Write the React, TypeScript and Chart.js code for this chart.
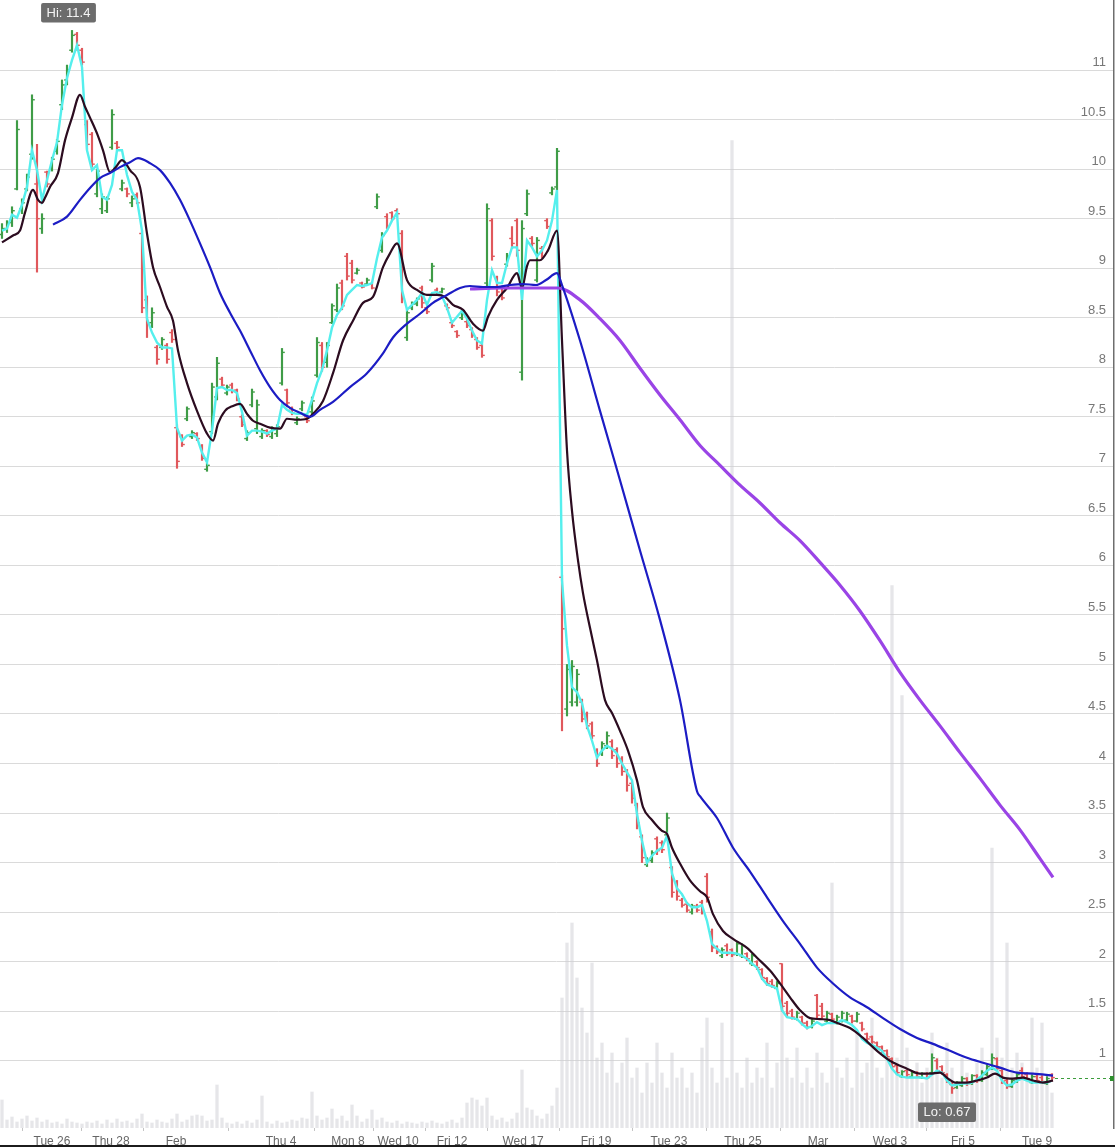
import React, { useEffect, useRef } from "react";
import { Chart, registerables } from "chart.js";

Chart.register(...registerables);

// ---- x axis (bar index units) ----
const xTickPos = [10.0, 21.8, 34.8, 55.8, 69.2, 79.2, 90.0, 104.2, 118.8, 133.4, 148.2, 163.2, 177.6, 192.2, 207.0];
const xTickLabels = ["Tue 26", "Thu 28", "Feb", "Thu 4", "Mon 8", "Wed 10", "Fri 12", "Wed 17", "Fri 19", "Tue 23", "Thu 25", "Mar", "Wed 3", "Fri 5", "Tue 9"];
const yTicks = [1, 1.5, 2, 2.5, 3, 3.5, 4, 4.5, 5, 5.5, 6, 6.5, 7, 7.5, 8, 8.5, 9, 9.5, 10, 10.5, 11];

// ---- OHLC ----
const opens = [
  9.34, 9.40, 9.46, 9.80, 9.60, 9.80, 10.15, 9.85, 9.40, 9.97,
  10.00, 10.18, 10.65, 10.90, 11.20, 11.36, 11.20, 10.45, 10.35, 9.75,
  9.60, 9.58, 10.22, 10.26, 9.80, 9.80, 9.66, 9.74, 9.35, 8.68,
  8.45, 8.20, 8.20, 8.22, 8.35, 7.39, 7.30, 7.48, 7.30, 7.33,
  7.20, 6.97, 7.35, 7.70, 7.88, 7.74, 7.82, 7.77, 7.50, 7.28,
  7.62, 7.38, 7.30, 7.36, 7.30, 7.33, 7.84, 7.77, 7.58, 7.44,
  7.58, 7.50, 7.55, 7.92, 8.22, 8.05, 8.45, 8.58, 8.85, 9.12,
  9.05, 8.95, 8.85, 8.84, 8.84, 9.62, 9.18, 9.52, 9.56, 9.58,
  9.35, 8.30, 8.60, 8.64, 8.80, 8.60, 8.88, 8.78, 8.76, 8.62,
  8.45, 8.36, 8.50, 8.46, 8.38, 8.28, 8.22, 8.85, 9.48, 8.90,
  8.80, 9.04, 9.30, 9.48, 7.95, 9.55, 9.30, 8.88, 9.20, 9.48,
  9.76, 9.82, 5.88, 4.55, 4.62, 4.62, 4.62, 4.50, 4.40, 4.12,
  4.10, 4.18, 4.22, 4.14, 4.05, 3.92, 3.80, 3.58, 3.26, 2.98,
  3.02, 3.24, 3.20, 3.28, 2.95, 2.80, 2.62, 2.58, 2.50, 2.56,
  2.60, 2.86, 2.30, 2.15, 2.06, 2.16, 2.12, 2.08, 2.06, 2.08,
  1.98, 2.00, 1.92, 1.83, 1.80, 1.73, 1.98, 1.58, 1.50, 1.42,
  1.44, 1.38, 1.34, 1.66, 1.55, 1.40, 1.47, 1.38, 1.40, 1.41,
  1.45, 1.40, 1.38, 1.27, 1.24, 1.18, 1.14, 1.10, 1.02, 0.95,
  0.84, 0.90, 0.84, 0.88, 0.83, 0.87, 0.88, 1.00, 0.94, 0.86,
  0.76, 0.73, 0.75, 0.82, 0.77, 0.85, 0.80, 0.86, 0.92, 1.02,
  0.90, 0.80, 0.74, 0.79, 0.90, 0.86, 0.78, 0.84, 0.83, 0.77,
  0.86,
];
const highs = [
  9.45, 9.48, 9.62, 10.49, 9.70, 9.95, 10.75, 10.25, 9.55, 9.98,
  10.12, 10.30, 10.90, 11.05, 11.40, 11.38, 11.22, 10.49, 10.37, 10.00,
  9.75, 9.72, 10.60, 10.28, 9.89, 9.81, 9.73, 9.76, 9.38, 8.72,
  8.60, 8.22, 8.30, 8.24, 8.38, 7.42, 7.32, 7.60, 7.36, 7.34,
  7.22, 7.03, 7.84, 8.10, 7.90, 7.82, 7.84, 7.78, 7.52, 7.36,
  7.78, 7.67, 7.38, 7.37, 7.40, 7.42, 8.19, 7.78, 7.60, 7.50,
  7.66, 7.52, 7.70, 8.30, 8.25, 8.25, 8.64, 8.84, 8.88, 9.15,
  9.08, 9.00, 8.86, 8.90, 8.86, 9.75, 9.36, 9.55, 9.57, 9.60,
  9.38, 8.58, 8.66, 8.70, 8.82, 8.61, 9.05, 8.80, 8.80, 8.64,
  8.47, 8.37, 8.58, 8.48, 8.40, 8.30, 8.23, 9.65, 9.50, 8.92,
  8.82, 9.15, 9.42, 9.50, 9.48, 9.79, 9.32, 9.31, 9.22, 9.50,
  9.82, 10.21, 5.90, 5.00, 5.04, 4.95, 4.65, 4.52, 4.42, 4.15,
  4.22, 4.32, 4.24, 4.16, 4.07, 3.94, 3.82, 3.60, 3.28, 3.05,
  3.12, 3.26, 3.22, 3.50, 2.96, 2.82, 2.64, 2.60, 2.58, 2.58,
  2.62, 2.89, 2.33, 2.16, 2.14, 2.18, 2.13, 2.20, 2.18, 2.09,
  2.08, 2.01, 1.93, 1.84, 1.82, 1.80, 1.98, 1.60, 1.52, 1.50,
  1.45, 1.40, 1.42, 1.67, 1.58, 1.50, 1.48, 1.46, 1.50, 1.49,
  1.46, 1.49, 1.39, 1.28, 1.25, 1.19, 1.15, 1.11, 1.03, 0.96,
  0.90, 0.91, 0.89, 0.89, 0.88, 0.88, 1.07, 1.02, 0.95, 0.87,
  0.78, 0.79, 0.84, 0.83, 0.86, 0.86, 0.90, 0.96, 1.07, 1.03,
  0.91, 0.82, 0.82, 0.88, 0.93, 0.88, 0.86, 0.86, 0.85, 0.84,
  0.87,
];
const lows = [
  9.30, 9.36, 9.42, 9.79, 9.55, 9.78, 10.10, 8.96, 9.35, 9.82,
  9.98, 10.15, 10.60, 10.85, 11.18, 11.20, 11.05, 10.20, 10.02, 9.72,
  9.55, 9.56, 10.20, 10.20, 9.78, 9.72, 9.62, 9.65, 8.55, 8.30,
  8.40, 8.03, 8.18, 8.04, 8.25, 6.98, 7.20, 7.46, 7.28, 7.26,
  7.06, 6.95, 7.33, 7.67, 7.80, 7.72, 7.74, 7.66, 7.40, 7.26,
  7.60, 7.33, 7.28, 7.30, 7.28, 7.30, 7.82, 7.60, 7.52, 7.42,
  7.56, 7.44, 7.50, 7.90, 7.96, 8.00, 8.44, 8.56, 8.58, 8.88,
  8.85, 8.94, 8.80, 8.83, 8.79, 9.60, 9.16, 9.40, 9.48, 9.52,
  8.65, 8.27, 8.58, 8.62, 8.60, 8.54, 8.86, 8.74, 8.75, 8.58,
  8.40, 8.30, 8.48, 8.40, 8.30, 8.18, 8.10, 8.81, 9.08, 8.72,
  8.68, 9.02, 9.20, 9.12, 7.87, 9.53, 9.22, 8.86, 9.10, 9.40,
  9.74, 9.79, 4.33, 4.48, 4.58, 4.58, 4.42, 4.35, 4.25, 3.97,
  4.08, 4.15, 4.05, 3.96, 3.88, 3.72, 3.60, 3.34, 3.00, 2.96,
  3.00, 3.08, 3.10, 3.26, 2.65, 2.62, 2.55, 2.50, 2.48, 2.50,
  2.48, 2.60, 2.10, 2.08, 2.04, 2.06, 2.05, 2.06, 2.04, 2.01,
  1.96, 1.92, 1.82, 1.76, 1.74, 1.72, 1.50, 1.45, 1.42, 1.41,
  1.36, 1.32, 1.33, 1.43, 1.42, 1.38, 1.40, 1.37, 1.39, 1.40,
  1.38, 1.39, 1.30, 1.20, 1.17, 1.12, 1.08, 1.02, 0.92, 0.86,
  0.83, 0.84, 0.83, 0.83, 0.82, 0.82, 0.87, 0.88, 0.86, 0.78,
  0.67, 0.72, 0.74, 0.75, 0.76, 0.78, 0.79, 0.85, 0.91, 0.90,
  0.77, 0.72, 0.73, 0.78, 0.82, 0.80, 0.77, 0.78, 0.78, 0.76,
  0.79,
];
const closes = [
  9.40, 9.46, 9.58, 10.40, 9.66, 9.92, 10.70, 9.50, 9.50, 9.85,
  10.10, 10.28, 10.85, 11.00, 11.35, 11.25, 11.08, 10.25, 10.05, 9.98,
  9.72, 9.70, 10.55, 10.22, 9.86, 9.75, 9.70, 9.66, 8.60, 8.45,
  8.55, 8.08, 8.28, 8.08, 8.28, 7.05, 7.22, 7.58, 7.34, 7.28,
  7.08, 7.01, 7.80, 8.04, 7.82, 7.80, 7.76, 7.68, 7.42, 7.34,
  7.75, 7.62, 7.36, 7.32, 7.38, 7.40, 8.15, 7.64, 7.54, 7.48,
  7.64, 7.46, 7.66, 8.25, 8.00, 8.22, 8.62, 8.80, 8.62, 8.92,
  8.88, 8.98, 8.81, 8.88, 8.80, 9.72, 9.33, 9.42, 9.50, 9.55,
  8.70, 8.55, 8.64, 8.69, 8.65, 8.56, 9.02, 8.75, 8.79, 8.60,
  8.42, 8.32, 8.56, 8.42, 8.32, 8.20, 8.12, 9.60, 9.12, 8.76,
  8.70, 9.12, 9.25, 9.18, 9.40, 9.75, 9.25, 9.28, 9.12, 9.42,
  9.80, 10.18, 5.36, 4.95, 4.98, 4.90, 4.45, 4.38, 4.28, 4.00,
  4.20, 4.28, 4.08, 4.00, 3.92, 3.78, 3.65, 3.40, 3.05, 3.03,
  3.10, 3.12, 3.13, 3.45, 2.70, 2.66, 2.57, 2.52, 2.56, 2.52,
  2.50, 2.65, 2.14, 2.10, 2.12, 2.08, 2.07, 2.18, 2.16, 2.03,
  2.06, 1.94, 1.84, 1.78, 1.76, 1.78, 1.55, 1.48, 1.44, 1.48,
  1.38, 1.34, 1.40, 1.46, 1.45, 1.48, 1.42, 1.44, 1.48, 1.47,
  1.40, 1.47, 1.32, 1.22, 1.19, 1.14, 1.10, 1.04, 0.94, 0.88,
  0.89, 0.86, 0.88, 0.84, 0.87, 0.83, 1.03, 0.90, 0.88, 0.80,
  0.72, 0.78, 0.82, 0.77, 0.85, 0.80, 0.88, 0.94, 1.03, 0.92,
  0.79, 0.74, 0.80, 0.86, 0.84, 0.82, 0.84, 0.80, 0.79, 0.82,
  0.83,
];

// ---- volume (millions) ----
const volumes = [
  1.12, 0.32, 0.44, 0.24, 0.36, 0.48, 0.28, 0.4, 0.24, 0.32,
  0.2, 0.24, 0.16, 0.36, 0.24, 0.2, 0.16, 0.24, 0.2, 0.28,
  0.16, 0.32, 0.2, 0.36, 0.24, 0.28, 0.2, 0.36, 0.56, 0.24,
  0.2, 0.32, 0.24, 0.2, 0.36, 0.56, 0.24, 0.32, 0.48, 0.52,
  0.48, 0.28, 0.32, 1.72, 0.4, 0.2, 0.16, 0.24, 0.16, 0.28,
  0.2, 0.32, 1.28, 0.24, 0.16, 0.28, 0.2, 0.24, 0.32, 0.28,
  0.4, 0.36, 1.44, 0.48, 0.32, 0.4, 0.76, 0.36, 0.48, 0.28,
  0.92, 0.48, 0.24, 0.36, 0.72, 0.32, 0.4, 0.24, 0.2, 0.28,
  0.16, 0.24, 0.2, 0.16, 0.24, 0.2, 0.28, 0.2, 0.16, 0.24,
  0.32, 0.2, 0.4, 1.0, 1.2, 1.12, 0.88, 1.2, 0.48, 0.32,
  0.4, 0.24, 0.36, 0.6, 2.32, 0.8, 0.72, 0.48, 0.36, 0.56,
  0.88, 1.6, 5.2, 7.4, 8.2, 6.0, 4.8, 3.8, 6.6, 2.8,
  3.4, 2.2, 3.0, 1.8, 2.6, 3.6, 2.0, 2.4, 1.4, 2.6,
  1.8, 3.4, 2.2, 1.6, 3.0, 2.0, 2.4, 1.6, 2.2, 1.4,
  3.2, 4.4, 2.4, 1.8, 4.2, 2.0, 39.5, 2.2, 1.6, 2.8,
  1.8, 2.4, 2.0, 3.4, 1.6, 2.6, 5.0, 2.8, 2.0, 3.2,
  1.8, 2.4, 1.6, 3.0, 2.2, 1.8, 9.8, 2.4, 2.0, 2.8,
  1.6, 3.8, 2.2, 2.6, 4.4, 2.4, 2.0, 3.0, 21.7, 2.8,
  17.3, 3.2, 2.2, 2.6, 1.8, 2.4, 3.8, 2.8, 2.0, 3.4,
  2.4, 1.6, 2.8, 2.2, 1.8, 2.6, 3.2, 2.4, 11.2, 3.6,
  2.8, 7.4, 2.4, 3.0, 2.6, 2.0, 4.4, 2.4, 4.2, 1.8,
  1.4,
];

// ---- fast line (cyan) ----
const fastLine = [
  9.38, 9.40, 9.54, 9.51, 9.64, 9.82, 10.19, 9.99, 9.69, 9.89,
  10.09, 10.27, 10.65, 10.92, 11.10, 11.25, 11.03, 10.19, 9.99, 10.04,
  9.72, 9.69, 9.84, 10.19, 10.19, 9.94, 9.77, 9.69, 9.38, 8.49,
  8.35, 8.25, 8.20, 8.20, 8.19, 7.39, 7.26, 7.31, 7.32, 7.29,
  7.14, 7.04, 7.36, 7.79, 7.80, 7.77, 7.77, 7.74, 7.55, 7.31,
  7.36, 7.36, 7.35, 7.33, 7.36, 7.38, 7.62, 7.57, 7.54, 7.53,
  7.53, 7.52, 7.67, 7.84, 7.97, 8.17, 8.40, 8.53, 8.60, 8.73,
  8.78, 8.83, 8.82, 8.83, 8.85, 9.10, 9.31, 9.38, 9.48, 9.56,
  8.78, 8.58, 8.63, 8.68, 8.75, 8.63, 8.75, 8.76, 8.72, 8.60,
  8.45, 8.51, 8.57, 8.49, 8.37, 8.27, 8.24, 8.68, 8.98, 8.85,
  8.85, 9.05, 9.21, 9.21, 8.68, 9.28, 9.21, 9.12, 9.18, 9.28,
  9.48, 9.79, 5.85, 5.19, 4.77, 4.72, 4.61, 4.38, 4.23, 4.06,
  4.13, 4.18, 4.15, 4.10, 4.00, 3.91, 3.83, 3.49, 3.22, 3.00,
  3.07, 3.12, 3.15, 3.27, 2.89, 2.74, 2.68, 2.59, 2.55, 2.55,
  2.57, 2.41, 2.18, 2.13, 2.09, 2.09, 2.09, 2.08, 2.06, 2.03,
  1.98, 1.94, 1.83, 1.77, 1.75, 1.73, 1.51, 1.44, 1.43, 1.42,
  1.37, 1.33, 1.35, 1.39, 1.36, 1.38, 1.38, 1.38, 1.41, 1.39,
  1.36, 1.31, 1.22, 1.18, 1.16, 1.13, 1.10, 1.02, 0.92, 0.86,
  0.84, 0.83, 0.83, 0.83, 0.83, 0.82, 0.86, 0.90, 0.88, 0.80,
  0.75, 0.76, 0.77, 0.77, 0.78, 0.81, 0.85, 0.90, 0.93, 0.90,
  0.80, 0.75, 0.76, 0.80, 0.82, 0.80, 0.78, 0.78, 0.78, 0.78,
  0.80,
];

// ---- moving averages as [bar index, value] ----
const maShort: [number, number][] = [
  [0, 9.26], [2.2, 9.33], [3.6, 9.38], [4.6, 9.56], [6.2, 9.79], [7.2, 9.69], [8, 9.66], [8.6, 9.71],
  [9.6, 9.82], [11.2, 9.96], [12.6, 10.29], [14, 10.52], [15.6, 10.75], [16.6, 10.63], [17.6, 10.52],
  [19, 10.36], [20.2, 10.19], [21.6, 9.97], [22.6, 10.01], [24, 10.09], [25.6, 9.99], [27.6, 9.82],
  [29, 9.35], [30.2, 9.01], [31.6, 8.81], [33, 8.61], [34.2, 8.47], [35.2, 8.17], [37, 7.84], [39, 7.56],
  [41, 7.33], [42.2, 7.26], [43.2, 7.43], [44.6, 7.56], [46.2, 7.61], [47.6, 7.63], [49, 7.53], [50.2, 7.46],
  [51.6, 7.43], [53.6, 7.39], [55.6, 7.38], [57, 7.48], [59, 7.47], [61, 7.48], [62.2, 7.53], [64.2, 7.66],
  [66.2, 7.94], [68.2, 8.27], [70.2, 8.47], [72.2, 8.65], [74.2, 8.71], [76.2, 9.01], [77.6, 9.15], [79, 9.25],
  [81, 8.88], [83, 8.78], [85, 8.73], [87, 8.73], [88.6, 8.71], [90.2, 8.63], [92.2, 8.58], [94.2, 8.44],
  [96.2, 8.37], [97.2, 8.51], [99, 8.68], [101, 8.80], [103, 8.95], [104, 8.80], [105, 9.02], [105.6, 9.08],
  [107.6, 9.08], [109.2, 9.18], [111, 9.38], [112, 8.27], [113, 7.16], [114, 6.55], [115.2, 6.05], [116.2, 5.72],
  [117.6, 5.37], [119, 5.04], [120.6, 4.64], [122, 4.51], [123.6, 4.33], [125.2, 4.13], [127, 3.83], [128.2, 3.56],
  [130, 3.43], [132, 3.32], [133, 3.29], [134, 3.15], [135.6, 2.99], [137.6, 2.82], [139.6, 2.71], [141, 2.65],
  [142.2, 2.48], [144.2, 2.31], [146.2, 2.23], [149, 2.14], [151, 2.04], [153.6, 1.91], [155.6, 1.78], [157.6, 1.64],
  [159.6, 1.51], [161.6, 1.43], [163.6, 1.42], [165.6, 1.41], [167.6, 1.37], [169.6, 1.33], [172.2, 1.23], [175, 1.10],
  [177.6, 1.00], [181, 0.92], [183.6, 0.87], [185.6, 0.87], [187.6, 0.88], [189.2, 0.82], [190.6, 0.78], [193, 0.78],
  [195, 0.80], [197, 0.83], [198.6, 0.87], [200.2, 0.83], [202.2, 0.82], [204.2, 0.83], [206.2, 0.80], [208.2, 0.78],
  [210.2, 0.80],
];
const maMid: [number, number][] = [
  [10.2, 9.44], [13, 9.52], [15.6, 9.69], [17.6, 9.81], [19.6, 9.91], [21.6, 9.96], [23.6, 10.02], [25.6, 10.07],
  [27.2, 10.11], [29.6, 10.06], [31.6, 9.99], [33.6, 9.86], [35.6, 9.69], [37.6, 9.48], [39.6, 9.25], [41.6, 9.01],
  [43.6, 8.75], [45.6, 8.55], [47.6, 8.37], [49.6, 8.17], [51.6, 7.97], [53.6, 7.80], [55.6, 7.67], [57.6, 7.59],
  [59.6, 7.54], [61.6, 7.50], [63.6, 7.57], [66.2, 7.65], [69.6, 7.80], [73, 7.94], [76.2, 8.14], [78.2, 8.30],
  [81, 8.44], [83.6, 8.54], [86.2, 8.65], [89, 8.73], [91.6, 8.80], [93.6, 8.82], [96.2, 8.81], [99, 8.81],
  [101.6, 8.83], [104.2, 8.84], [106.8, 8.83], [108.8, 8.88], [111, 8.95], [112, 8.83], [115.6, 8.27], [119.6, 7.56],
  [123.6, 6.86], [127.6, 6.15], [131.6, 5.45], [135.6, 4.64], [139, 3.72], [139.6, 3.67], [143, 3.45], [146.2, 3.15],
  [149.6, 2.91], [153, 2.65], [156.2, 2.41], [159.6, 2.18], [163, 1.94], [166.2, 1.78], [169.6, 1.64], [173, 1.54],
  [176.2, 1.43], [179.6, 1.32], [183, 1.23], [186.2, 1.17], [189.6, 1.10], [193, 1.03], [196.2, 0.98], [199.6, 0.93],
  [203, 0.88], [206.2, 0.87], [210.2, 0.85],
];
const maLong: [number, number][] = [
  [93.6, 8.79], [99.6, 8.80], [105.6, 8.80], [111.2, 8.80], [115.6, 8.68], [119.6, 8.49], [123.6, 8.27],
  [127.6, 7.99], [131.6, 7.72], [135.6, 7.47], [139.6, 7.21], [143.6, 7.01], [147.6, 6.81], [151.6, 6.63],
  [155.6, 6.43], [159.6, 6.25], [163.6, 6.03], [167.6, 5.80], [171.6, 5.54], [175.6, 5.24], [179.6, 4.92],
  [183.6, 4.64], [187.6, 4.38], [191.6, 4.11], [195.6, 3.85], [199.6, 3.58], [203.6, 3.33], [207.6, 3.04],
  [210.2, 2.85],
];

const FONT = '"Liberation Sans", Arial, Helvetica, sans-serif';
const UP = "#3f9c47";
const DOWN = "#e0585c";

export default function App() {
  const ref = useRef<HTMLCanvasElement>(null);

  useEffect(() => {
    const canvas = ref.current;
    if (!canvas) return;
    const idx = closes.map((_, i) => i);
    const barColors = idx.map((i) => (closes[i] >= opens[i] ? UP : DOWN));

    const annot = {
      id: "hiLoAnnot",
      afterDatasetsDraw(chart: any) {
        const { ctx, chartArea, scales } = chart;
        const xs = scales.x;
        const ys = scales.y;
        ctx.save();
        // last price dashed line
        const last = closes.length - 1;
        const ly = Math.round(ys.getPixelForValue(closes[last])) + 0.5;
        ctx.strokeStyle = "#3c9c3c";
        ctx.lineWidth = 1;
        ctx.setLineDash([3, 3]);
        ctx.beginPath();
        ctx.moveTo(xs.getPixelForValue(last) + 3, ly);
        ctx.lineTo(chartArea.right, ly);
        ctx.stroke();
        ctx.setLineDash([]);
        ctx.fillStyle = "#2f8f2f";
        ctx.fillRect(chartArea.right - 4, ly - 2.5, 4, 5);

        // Hi / Lo boxes
        ctx.font = `13px ${FONT}`;
        const drawBox = (text: string, cx: number, top: number) => {
          const w = ctx.measureText(text).width + 11;
          const h = 19.5;
          const x0 = cx - w / 2;
          ctx.fillStyle = "#6c6c6c";
          ctx.beginPath();
          const r = 2;
          ctx.moveTo(x0 + r, top);
          ctx.lineTo(x0 + w - r, top);
          ctx.quadraticCurveTo(x0 + w, top, x0 + w, top + r);
          ctx.lineTo(x0 + w, top + h - r);
          ctx.quadraticCurveTo(x0 + w, top + h, x0 + w - r, top + h);
          ctx.lineTo(x0 + r, top + h);
          ctx.quadraticCurveTo(x0, top + h, x0, top + h - r);
          ctx.lineTo(x0, top + r);
          ctx.quadraticCurveTo(x0, top, x0 + r, top);
          ctx.fill();
          ctx.fillStyle = "#f4f4f4";
          ctx.textAlign = "center";
          ctx.textBaseline = "middle";
          ctx.fillText(text, cx, top + h / 2 + 0.5);
        };
        const hi = Math.max(...highs);
        const hiI = highs.indexOf(hi);
        const lo = Math.min(...lows);
        const loI = lows.indexOf(lo);
        drawBox(`Hi: ${hi}`, xs.getPixelForValue(hiI) - 3.5, ys.getPixelForValue(hi) - 8 - 19.5);
        drawBox(`Lo: ${lo}`, xs.getPixelForValue(loI) - 5, ys.getPixelForValue(lo) + 9);
        ctx.restore();
      },
      afterDraw(chart: any) {
        const { ctx, width, height } = chart;
        ctx.save();
        ctx.fillStyle = "#1c1c1c";
        ctx.fillRect(0, height - 2, width, 2);
        ctx.restore();
      },
    };

    const chart = new Chart(canvas, {
      type: "line",
      data: {
        datasets: [
          {
            type: "bar",
            label: "Volume",
            yAxisID: "yv",
            data: idx.map((i) => ({ x: i, y: volumes[i] })),
            backgroundColor: "rgba(205,205,212,0.5)",
            grouped: false,
            maxBarThickness: 2.6,
            categoryPercentage: 1,
            barPercentage: 1,
            order: 10,
          } as any,
          {
            type: "bar",
            label: "Range",
            yAxisID: "y",
            data: idx.map((i) => ({ x: i, y: [lows[i], highs[i]] })),
            backgroundColor: barColors,
            grouped: false,
            maxBarThickness: 1.5,
            categoryPercentage: 1,
            barPercentage: 1,
            order: 9,
          } as any,
          {
            type: "line",
            label: "Open",
            yAxisID: "y",
            data: idx.map((i) => ({ x: i - 0.3, y: opens[i] })),
            showLine: false,
            pointStyle: "line",
            pointRadius: 1.3,
            pointBorderWidth: 1.4,
            pointBorderColor: barColors,
            pointBackgroundColor: barColors,
            order: 8,
          } as any,
          {
            type: "line",
            label: "Close",
            yAxisID: "y",
            data: idx.map((i) => ({ x: i + 0.3, y: closes[i] })),
            showLine: false,
            pointStyle: "line",
            pointRadius: 1.3,
            pointBorderWidth: 1.4,
            pointBorderColor: barColors,
            pointBackgroundColor: barColors,
            order: 7,
          } as any,
          {
            type: "line",
            label: "Fast",
            yAxisID: "y",
            data: idx.map((i) => ({ x: i, y: fastLine[i] })),
            borderColor: "#55efed",
            borderWidth: 2.4,
            pointRadius: 0,
            tension: 0,
            fill: false,
            order: 4,
          },
          {
            type: "line",
            label: "MA short",
            yAxisID: "y",
            data: maShort.map(([x, y]) => ({ x, y })),
            borderColor: "#2c0c20",
            borderWidth: 2.2,
            pointRadius: 0,
            cubicInterpolationMode: "monotone",
            fill: false,
            order: 3,
          },
          {
            type: "line",
            label: "MA long",
            yAxisID: "y",
            data: maLong.map(([x, y]) => ({ x, y })),
            borderColor: "#9a44e6",
            borderWidth: 3.2,
            pointRadius: 0,
            cubicInterpolationMode: "monotone",
            fill: false,
            order: 2,
          },
          {
            type: "line",
            label: "MA mid",
            yAxisID: "y",
            data: maMid.map(([x, y]) => ({ x, y })),
            borderColor: "#1c1cc4",
            borderWidth: 2.2,
            pointRadius: 0,
            cubicInterpolationMode: "monotone",
            fill: false,
            order: 1,
          },
        ],
      },
      options: {
        responsive: false,
        animation: false,
        devicePixelRatio: 1,
        events: [],
        layout: { autoPadding: false, padding: { left: 0, right: 1, top: 0, bottom: 0 } },
        plugins: { legend: { display: false }, tooltip: { enabled: false } },
        scales: {
          x: {
            type: "linear",
            min: -0.4,
            max: 222.4,
            offset: false,
            afterBuildTicks: (s: any) => {
              s.ticks = xTickPos.map((v) => ({ value: v }));
            },
            afterFit: (s: any) => {
              s.height = 19;
              s.paddingLeft = 0;
              s.paddingRight = 0;
            },
            grid: {
              display: true,
              drawOnChartArea: false,
              drawTicks: true,
              tickLength: 3,
              color: (c: any) => (c.tick && xTickPos.includes(c.tick.value) ? "#c4c4c4" : "rgba(0,0,0,0)"),
            },
            border: { display: false },
            ticks: {
              autoSkip: false,
              maxRotation: 0,
              minRotation: 0,
              padding: 5,
              color: "#666666",
              font: { family: FONT, size: 12, lineHeight: 1 },
              callback: (_v: any, i: number) => xTickLabels[i],
            },
          },
          y: {
            type: "linear",
            position: "right",
            min: 0.321,
            max: 11.707,
            afterBuildTicks: (s: any) => {
              s.ticks = yTicks.map((v) => ({ value: v }));
            },
            afterFit: (s: any) => {
              s.width = 0;
              s.paddingTop = 0;
              s.paddingBottom = 0;
              s.paddingLeft = 0;
              s.paddingRight = 0;
            },
            grid: { color: "#dadada", lineWidth: 1, drawTicks: false },
            border: { display: true, color: "#6e6e6e", width: 1.5 },
            ticks: {
              mirror: true,
              padding: -8,
              labelOffset: -7.5,
              color: "#777777",
              font: { family: FONT, size: 13 },
              callback: (v: any) => String(v),
            },
          },
          yv: { type: "linear", display: false, min: 0, max: 45.12 },
        },
      } as any,
      plugins: [annot],
    });
    return () => chart.destroy();
  }, []);

  return (
    <div style={{ position: "absolute", left: 0, top: 0, width: 1115, height: 1147, background: "#fff" }}>
      <canvas ref={ref} width={1115} height={1147} style={{ width: 1115, height: 1147, display: "block" }} />
    </div>
  );
}
